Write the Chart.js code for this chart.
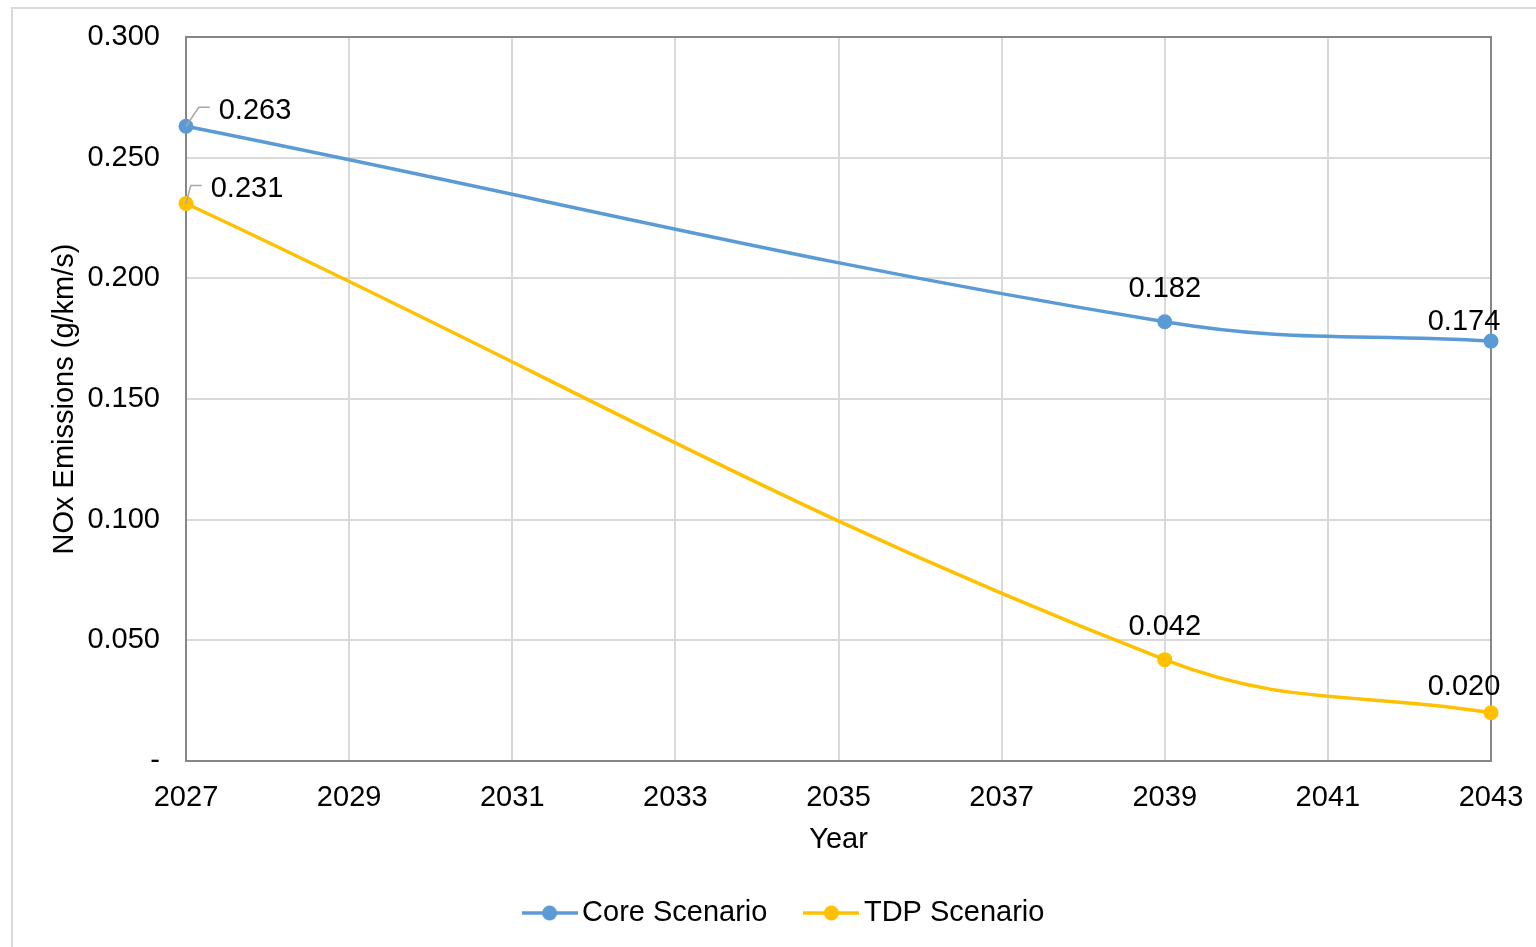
<!DOCTYPE html>
<html>
<head>
<meta charset="utf-8">
<script src="https://cdn.jsdelivr.net/npm/chart.js@4"></script>
<style>
  body { margin: 0; background: #fff; }
  #wrap { width: 1536px; height: 947px; }
</style>
</head>
<body>
<div id="wrap"><canvas id="nox" width="1536" height="947"></canvas></div>
<script>
// valores
var years = [2027, 2039, 2043];
var coreValues = [0.263, 0.182, 0.174];
var tdpValues = [0.231, 0.042, 0.020];
var seriesNames = ['Core Scenario', 'TDP Scenario'];
var yearTicks = [2027, 2029, 2031, 2033, 2035, 2037, 2039, 2041, 2043];

var blue = '#5B9BD5';
var gold = '#FFC000';

Chart.defaults.font.family = '"Liberation Sans", Arial, sans-serif';
Chart.defaults.font.size = 29;
Chart.defaults.color = '#000';

function toPoints(vals) {
  return years.map(function (y, i) { return { x: y, y: vals[i] }; });
}

// ícone da legenda: linha com marcador
function legendIcon(color) {
  var c = document.createElement('canvas');
  c.width = 56; c.height = 16;
  var g = c.getContext('2d');
  g.strokeStyle = color; g.lineWidth = 3.5;
  g.beginPath(); g.moveTo(0, 8); g.lineTo(56, 8); g.stroke();
  g.fillStyle = color;
  g.beginPath(); g.arc(28, 8, 7.5, 0, Math.PI * 2); g.fill();
  return c;
}

// moldura externa (borda da área do gráfico) e borda da área de plotagem
var frames = {
  id: 'frames',
  beforeDraw: function (chart) {
    var ctx = chart.ctx;
    ctx.save();
    ctx.fillStyle = '#fff';
    ctx.fillRect(0, 0, chart.width, chart.height);
    ctx.strokeStyle = '#d9d9d9';
    ctx.lineWidth = 2;
    ctx.beginPath();
    ctx.moveTo(12, chart.height); ctx.lineTo(12, 8); ctx.lineTo(chart.width, 8);
    ctx.stroke();
    ctx.restore();
  },
  beforeDatasetsDraw: function (chart) {
    var a = chart.chartArea, ctx = chart.ctx;
    ctx.save();
    ctx.strokeStyle = '#868686';
    ctx.lineWidth = 2;
    ctx.strokeRect(a.left, a.top, a.right - a.left, a.bottom - a.top);
    ctx.restore();
  }
};

// rótulos de dados
var dataLabels = {
  id: 'dataLabels',
  afterDatasetsDraw: function (chart, args, opts) {
    var ctx = chart.ctx;
    ctx.save();
    ctx.font = '29px "Liberation Sans", Arial, sans-serif';
    ctx.fillStyle = '#000';
    ctx.textBaseline = 'middle';
    chart.data.datasets.forEach(function (ds, di) {
      var meta = chart.getDatasetMeta(di);
      var offs = opts.offsets[di];
      meta.data.forEach(function (pt, i) {
        var o = offs[i];
        var txt = ds.data[i].y.toFixed(3);
        var w = ctx.measureText(txt).width;
        var cx = pt.x + o.dx, cy = pt.y + o.dy;
        if (o.leader) {
          var left = cx - w / 2;
          ctx.strokeStyle = '#a6a6a6';
          ctx.lineWidth = 1.5;
          ctx.beginPath();
          ctx.moveTo(pt.x, pt.y);
          ctx.lineTo(left - 20, cy - 1);
          ctx.lineTo(left - 9, cy - 1);
          ctx.stroke();
        }
        ctx.textAlign = 'center';
        ctx.fillText(txt, cx, cy + 2.5);
      });
    });
    ctx.restore();
  }
};

new Chart(document.getElementById('nox').getContext('2d'), {
  type: 'line',
  data: {
    datasets: [{
      label: seriesNames[0],
      data: toPoints(coreValues),
      borderColor: blue,
      backgroundColor: blue,
      pointBackgroundColor: blue,
      borderWidth: 3.5,
      pointRadius: 7.5,
      pointBorderWidth: 0,
      tension: 0.4,
      clip: false
    }, {
      label: seriesNames[1],
      data: toPoints(tdpValues),
      borderColor: gold,
      backgroundColor: gold,
      pointBackgroundColor: gold,
      borderWidth: 3.5,
      pointRadius: 7.5,
      pointBorderWidth: 0,
      tension: 0.4,
      clip: false
    }]
  },
  options: {
    responsive: false,
    animation: false,
    devicePixelRatio: 1,
    layout: { padding: { top: 37, left: 85, right: 45, bottom: 9.5 } },
    scales: {
      x: {
        type: 'linear',
        min: 2027,
        max: 2043,
        afterBuildTicks: function (scale) {
          scale.ticks = yearTicks.map(function (v) { return { value: v }; });
        },
        ticks: {
          padding: 20,
          maxRotation: 0,
          callback: function (v) { return String(v); }
        },
        grid: { color: '#d9d9d9', lineWidth: 2, drawTicks: false },
        border: { color: '#868686', width: 2 },
        title: { display: true, text: 'Year', padding: { top: 4, bottom: -4.9 } },
        afterFit: function (scale) {
          scale.height = 91.5;
          scale.paddingLeft = 0;
          scale.paddingRight = 0;
        }
      },
      y: {
        min: 0,
        max: 0.3,
        ticks: {
          stepSize: 0.05,
          padding: 26,
          callback: function (v) { return v === 0 ? '-' : v.toFixed(3); }
        },
        grid: { color: '#d9d9d9', lineWidth: 2, drawTicks: false },
        border: { color: '#868686', width: 2 },
        title: { display: true, text: 'NOx Emissions (g/km/s)', padding: { top: -37.4, bottom: 4 } },
        afterFit: function (scale) {
          scale.width = 101;
          scale.paddingTop = 0;
          scale.paddingBottom = 0;
        }
      }
    },
    plugins: {
      legend: {
        position: 'bottom',
        labels: {
          usePointStyle: true,
          pointStyleWidth: 36,
          padding: 46,
          generateLabels: function (chart) {
            return chart.data.datasets.map(function (ds, i) {
              return {
                text: ds.label,
                pointStyle: legendIcon(ds.borderColor),
                fillStyle: ds.borderColor,
                strokeStyle: ds.borderColor,
                lineWidth: 0,
                fontColor: '#000',
                hidden: false,
                datasetIndex: i
              };
            });
          }
        }
      },
      tooltip: { enabled: false },
      dataLabels: {
        offsets: [
          [{ dx: 69, dy: -18, leader: true }, { dx: 0, dy: -35 }, { dx: -27, dy: -22 }],
          [{ dx: 61, dy: -17, leader: true }, { dx: 0, dy: -35 }, { dx: -27, dy: -28 }]
        ]
      }
    }
  },
  plugins: [frames, dataLabels]
});
</script>
</body>
</html>
